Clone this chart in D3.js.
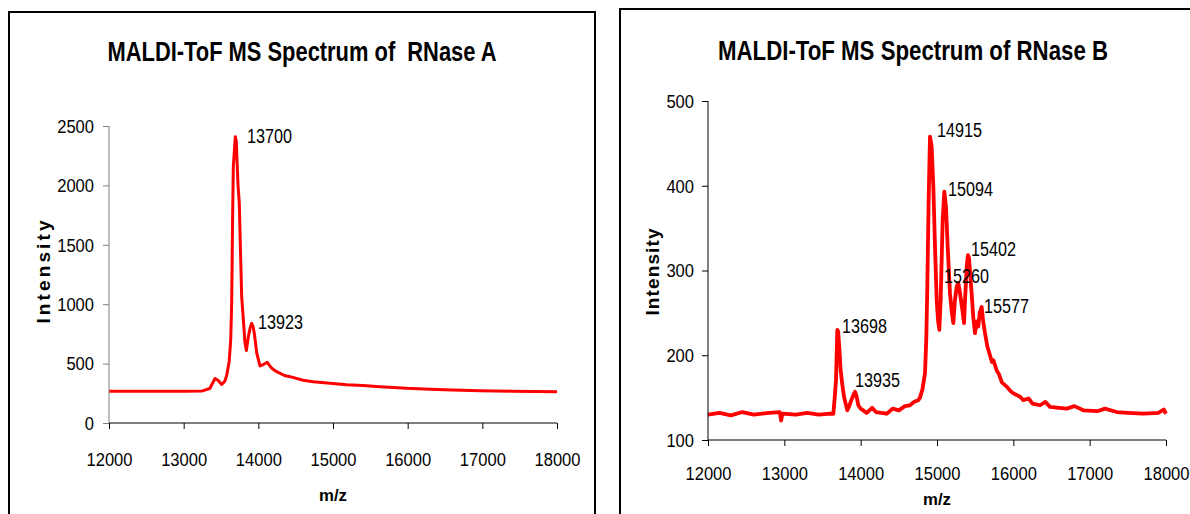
<!DOCTYPE html>
<meta charset="utf-8">
<html>
<head>
  <script src="https://d3js.org/d3.v7.min.js"></script>
  <style>
    body { margin: 0; background: #fff; }
    text { fill: #000; font-family: 'Liberation Sans', Arial, sans-serif; }
    .title { font-weight: bold; font-size: 27px; }
    .peak { font-size: 20px; }
    .axlab { font-weight: bold; font-size: 19px; }
    .tick text { font-size: 17.5px; }
  </style>
</head>
<body>
<script>
  // RNase A spectrum (m/z, intensity)
  var mzA = [12000, 12500, 13000, 13250, 13350, 13420, 13460, 13509, 13550, 13576, 13610, 13630, 13643, 13655,
    13665, 13680, 13692, 13705, 13715, 13728, 13745, 13763, 13777, 13790, 13805, 13820, 13840, 13866, 13890,
    13911, 13930, 13950, 13978, 14022, 14060, 14120, 14180, 14245, 14350, 14424, 14600, 14736, 14960, 15183,
    15400, 15629, 15986, 16300, 16600, 16968, 17400, 17700, 18000];
  var intA = [268, 268, 268, 270, 290, 375, 360, 325, 350, 400, 520, 700, 1010, 1700,
    2160, 2300, 2410, 2370, 2200, 2000, 1850, 1400, 1063, 950, 820, 680, 610, 726, 800,
    839, 810, 740, 590, 480, 490, 510, 460, 432, 400, 390, 360, 348, 334, 322,
    315, 306, 292, 285, 278, 272, 268, 266, 263];

  // RNase B spectrum
  var mzB = [12000, 12150, 12300, 12450, 12600, 12800, 12940, 12958, 12975, 13150, 13300, 13450, 13600, 13642, 13660, 13677, 13694, 13705, 13720,
    13738, 13760, 13782, 13825, 13850, 13869, 13900, 13926, 13945, 13969, 14000, 14079, 14150, 14200, 14341, 14420, 14500,
    14580, 14646, 14700, 14755, 14777, 14810, 14843, 14860, 14873, 14890, 14908, 14920, 14930, 14952, 14974, 14996,
    15015, 15030, 15048, 15074, 15096, 15118, 15140, 15170, 15195, 15214, 15235, 15258, 15280, 15302, 15330,
    15354, 15370, 15389, 15405, 15419, 15454, 15475, 15498, 15520, 15541, 15560, 15585, 15605, 15629, 15660,
    15694, 15720, 15740, 15782, 15810, 15850, 15913, 15960, 16000, 16088, 16131, 16200, 16250, 16350, 16420, 16481, 16600, 16700, 16800, 16917, 17100, 17200, 17354,
    17500, 17700, 17900, 17970, 18000];
  var intB = [130, 132, 129, 133, 130, 132, 133, 123, 131, 130, 132, 130, 131, 131, 150, 171, 230, 228, 210,
    182, 165, 151, 135, 140, 145, 152, 157, 152, 141, 137, 132, 138, 133, 131, 137, 135,
    140, 141, 145, 147, 150, 160, 179, 220, 281, 380, 458, 452, 446, 399, 328, 265,
    240, 230, 265, 359, 393, 375, 328, 273, 250, 238, 265, 281, 285, 273, 255,
    238, 270, 304, 318, 315, 273, 245, 226, 240, 234, 250, 257, 240, 226, 210,
    200, 192, 194, 182, 178, 168, 163, 158, 155, 151, 147, 149, 143, 141, 145, 139, 138, 137, 140, 135, 134, 137, 133,
    132, 131, 132, 136, 131];

  var xTicks = [12000, 13000, 14000, 15000, 16000, 17000, 18000];
  var yTicksA = [0, 500, 1000, 1500, 2000, 2500];
  var yTicksB = [100, 200, 300, 400, 500];

  var peaksA = [{ mz: 13700, v: 2410, label: '13700' }, { mz: 13923, v: 839, label: '13923' }];
  var peaksB = [
    { mz: 13698, v: 230, label: '13698' }, { mz: 13935, v: 157, label: '13935' },
    { mz: 14915, v: 458, label: '14915' }, { mz: 15094, v: 393, label: '15094' },
    { mz: 15402, v: 318, label: '15402' }, { mz: 15260, v: 281, label: '15260' },
    { mz: 15577, v: 257, label: '15577' }];

  var svg = d3.select('body').append('svg')
    .attr('width', 1190).attr('height', 514);

  // squeeze text to the narrow look of the original
  function fit(sel, w, mode) {
    sel.attr('textLength', w).attr('lengthAdjust', mode || 'spacingAndGlyphs');
  }

  var panels = [
    { frame: [9, 12, 586, 520], title: 'MALDI-ToF MS Spectrum of\u00a0 RNase A', tx: 302, ty: 61, tw: 389,
      x0: 109, x1: 557, y0: 423, y1: 126, yDom: [0, 2500], yTicks: yTicksA, mz: mzA, val: intA,
      peaks: peaksA, labelOff: [[247, 143], [258, 329]], yColor: '#808080', tickPad: 9,
      ilx: 43, ily: 272, iw: 103, mx: 333, my: 501, xlabY: 467, sw: 3 },
    { frame: [620, 9, 600, 520], title: 'MALDI-ToF MS Spectrum of RNase B', tx: 913, ty: 60, tw: 390,
      x0: 708, x1: 1166, y0: 440, y1: 101, yDom: [100, 500], yTicks: yTicksB, mz: mzB, val: intB,
      peaks: peaksB, labelOff: [[842, 333], [855, 387], [937, 137], [948, 196], [971, 256], [944, 283], [984, 313]],
      yColor: '#000', tickPad: 8, ilx: 652, ily: 272, iw: 87, mx: 937, my: 505, xlabY: 481, sw: 3.8 }
  ];

  panels.forEach(function (p) {
    svg.append('rect')
      .attr('x', p.frame[0]).attr('y', p.frame[1])
      .attr('width', p.frame[2]).attr('height', p.frame[3])
      .attr('fill', 'none').attr('stroke', '#000').attr('stroke-width', 2);

    svg.append('text').attr('class', 'title')
      .attr('x', p.tx - p.tw / 2).attr('y', p.ty)
      .text(p.title)
      .call(fit, p.tw);

    var x = d3.scaleLinear().domain([12000, 18000]).range([p.x0, p.x1]);
    var y = d3.scaleLinear().domain(p.yDom).range([p.y0, p.y1]);

    // spectrum
    svg.append('path')
      .datum(d3.zip(p.mz, p.val))
      .attr('fill', 'none')
      .attr('stroke', '#ff0000')
      .attr('stroke-width', p.sw)
      .attr('stroke-linejoin', 'round')
      .attr('d', d3.line().x(d => x(d[0])).y(d => y(d[1])));

    // x axis
    var gx = svg.append('g')
      .attr('transform', `translate(0, ${p.y0})`)
      .call(d3.axisBottom(x).tickValues(xTicks).tickSize(6).tickPadding(p.xlabY - p.y0 - 19).tickFormat(d3.format('d')));
    gx.select('.domain').attr('stroke', '#000').attr('d', `M${p.x0},0H${p.x1}`);
    gx.selectAll('.tick line').attr('stroke', '#000');
    gx.selectAll('.tick text').each(function (d) {
      var t = d3.select(this);
      t.attr('text-anchor', 'start').attr('x', -String(d).length * 4.6).call(fit, String(d).length * 9.2);
    });

    // y axis
    var gy = svg.append('g')
      .attr('transform', `translate(${p.x0}, 0)`)
      .call(d3.axisLeft(y).tickValues(p.yTicks).tickSize(6).tickPadding(p.tickPad).tickFormat(d3.format('d')));
    gy.select('.domain').attr('stroke', p.yColor).attr('d', `M0,${p.y1}V${p.y0}`);
    gy.selectAll('.tick line').attr('stroke', p.yColor);
    gy.selectAll('.tick text').attr('dy', '0.36em').each(function (d) {
      var t = d3.select(this), n = String(d).length;
      t.attr('text-anchor', 'start').attr('x', -6 - p.tickPad - n * 9.2).call(fit, n * 9.2);
    });

    // peak labels
    svg.selectAll(null)
      .data(p.peaks)
      .enter()
      .append('text')
      .attr('class', 'peak')
      .attr('x', (d, i) => p.labelOff[i][0])
      .attr('y', (d, i) => p.labelOff[i][1])
      .text(d => d.label)
      .call(fit, 45);

    // axis titles
    svg.append('text').attr('class', 'axlab')
      .attr('transform', `translate(${p.ilx + 7}, ${p.ily + p.iw / 2}) rotate(-90)`)
      .text('Intensity')
      .call(fit, p.iw, 'spacing');
    svg.append('text').attr('class', 'axlab')
      .attr('x', p.mx - 14).attr('y', p.my)
      .style('font-size', '17px')
      .text('m/z')
      .call(fit, 28);
  });
</script>
</body>
</html>
